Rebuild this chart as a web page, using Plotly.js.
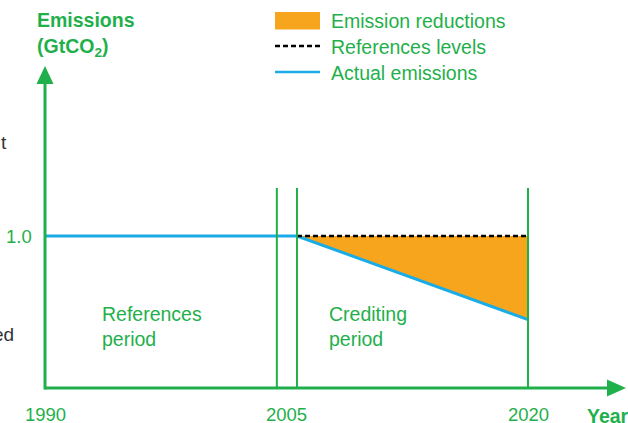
<!DOCTYPE html>
<html><head><meta charset="utf-8">
<script src="https://cdn.plot.ly/plotly-3.0.1.min.js"></script>
<style>html,body{margin:0;padding:0;background:#fff;}#chart{width:628px;height:423px;}</style>
</head><body><div id="chart"></div>
<script>
// ---- data ----
const tickYears = [1990, 2005, 2020];
const tickYearLabels = ['1990', '2005', '2020'];
const yTickValues = [1.0];
const yTickLabels = ['1.0'];
const periodLines = [2004.4, 2005.65, 2020];          // period boundary markers
const actualYears = [1990, 2005.65, 2020];
const actualEmissions = [1.0, 1.0, 0.45];
const referenceYears = [2005.65, 2020];
const referenceLevels = [1.0, 1.0];
const reductionYears = [2005.65, 2020];
const reductionLower = [1.0, 0.45];
const legendLabels = ['Emission reductions', 'References levels', 'Actual emissions'];

// ---- styling ----
const GREEN = '#1fb04b', BLUE = '#1aace6', ORANGE = '#f7a51d';
const FONT = 'Liberation Sans, Arial, Helvetica, sans-serif';
const W = 628, H = 423;
const px = v => v / W, py = v => 1 - v / H;

const traces = [
  {x: reductionYears, y: referenceLevels, mode: 'lines', line: {width: 0, color: ORANGE}, hoverinfo: 'skip', showlegend: false},
  {x: reductionYears, y: reductionLower, mode: 'lines', fill: 'tonexty', fillcolor: ORANGE, line: {width: 0, color: ORANGE}, hoverinfo: 'skip', showlegend: false},
  {x: actualYears, y: actualEmissions, mode: 'lines', line: {width: 3, color: BLUE}, hoverinfo: 'skip', showlegend: false},
  {x: referenceYears, y: referenceLevels, mode: 'lines', line: {width: 2.5, color: '#000', dash: '5px,3px'}, hoverinfo: 'skip', showlegend: false}
];

const shapes = [];
// axes
shapes.push({type: 'line', xref: 'paper', yref: 'paper', x0: px(45), x1: px(612), y0: py(388), y1: py(388), line: {color: GREEN, width: 3}, layer: 'above'});
shapes.push({type: 'line', xref: 'paper', yref: 'paper', x0: px(45), x1: px(45), y0: py(389.5), y1: py(80), line: {color: GREEN, width: 3}, layer: 'above'});
shapes.push({type: 'path', xref: 'paper', yref: 'paper', path: `M ${px(626)} ${py(388)} L ${px(607)} ${py(379.5)} L ${px(607)} ${py(396.5)} Z`, fillcolor: GREEN, line: {width: 0}, layer: 'above'});
shapes.push({type: 'path', xref: 'paper', yref: 'paper', path: `M ${px(45)} ${py(66)} L ${px(36.5)} ${py(84)} L ${px(53.5)} ${py(84)} Z`, fillcolor: GREEN, line: {width: 0}, layer: 'above'});
// period boundary lines
periodLines.forEach(x => shapes.push({type: 'line', xref: 'x', yref: 'paper', x0: x, x1: x, y0: py(388), y1: py(188), line: {color: GREEN, width: 2}, layer: 'above'}));
// legend symbols
shapes.push({type: 'rect', xref: 'paper', yref: 'paper', x0: px(275), x1: px(320), y0: py(12), y1: py(29.5), fillcolor: ORANGE, line: {width: 0}});
shapes.push({type: 'line', xref: 'paper', yref: 'paper', x0: px(275), x1: px(320), y0: py(46), y1: py(46), line: {color: '#000', width: 2.5, dash: '5px,3px'}});
shapes.push({type: 'line', xref: 'paper', yref: 'paper', x0: px(275), x1: px(320), y0: py(72), y1: py(72), line: {color: BLUE, width: 2.5}});

const ann = [];
const txt = (text, x, y, opts = {}) => ann.push(Object.assign({text, xref: 'paper', yref: 'paper', x: px(x), y: py(y), showarrow: false, xanchor: 'left', yanchor: 'middle', font: {family: FONT, size: 19.5, color: GREEN}}, opts));

txt('<b>Emissions</b>', 35, 20);
txt('<b>(GtCO<sub>2</sub>)</b>', 35, 47);
legendLabels.forEach((l, i) => txt(l, 329, 21 + 26 * i));
txt('References', 100, 314);
txt('period', 100, 339);
txt('Crediting', 327, 314);
txt('period', 327, 339);
txt('<b>Year</b>', 585, 416);
tickYears.forEach((yr, i) => ann.push({text: tickYearLabels[i], xref: 'x', yref: 'paper', x: yr, y: py(414), showarrow: false, xanchor: 'center', yanchor: 'middle', font: {family: FONT, size: 18.5, color: GREEN}}));
// 2005 label sits centred between the two boundary lines
ann[ann.length - 2].x = (periodLines[0] + periodLines[1]) / 2;
yTickValues.forEach((v, i) => ann.push({text: yTickLabels[i], xref: 'paper', yref: 'y', x: px(34), y: v, showarrow: false, xanchor: 'right', yanchor: 'middle', font: {family: FONT, size: 18.5, color: GREEN}}));
// cropped fragments of neighbouring text at the left edge
txt('t', -1, 142, {font: {family: FONT, size: 19, color: '#333'}});
txt('ed', 16, 334, {xanchor: 'right', font: {family: FONT, size: 19, color: '#333'}});

const layout = {
  width: W, height: H,
  margin: {l: 0, r: 0, t: 0, b: 0, pad: 0},
  paper_bgcolor: '#fff', plot_bgcolor: '#fff',
  showlegend: false,
  xaxis: {range: [1990 - 45 / 16.1, 1990 + 583 / 16.1], visible: false, fixedrange: true},
  yaxis: {range: [-35 / 152, 388 / 152], visible: false, fixedrange: true},
  shapes, annotations: ann
};
Plotly.newPlot('chart', traces, layout, {staticPlot: true, displayModeBar: false});
</script></body></html>
